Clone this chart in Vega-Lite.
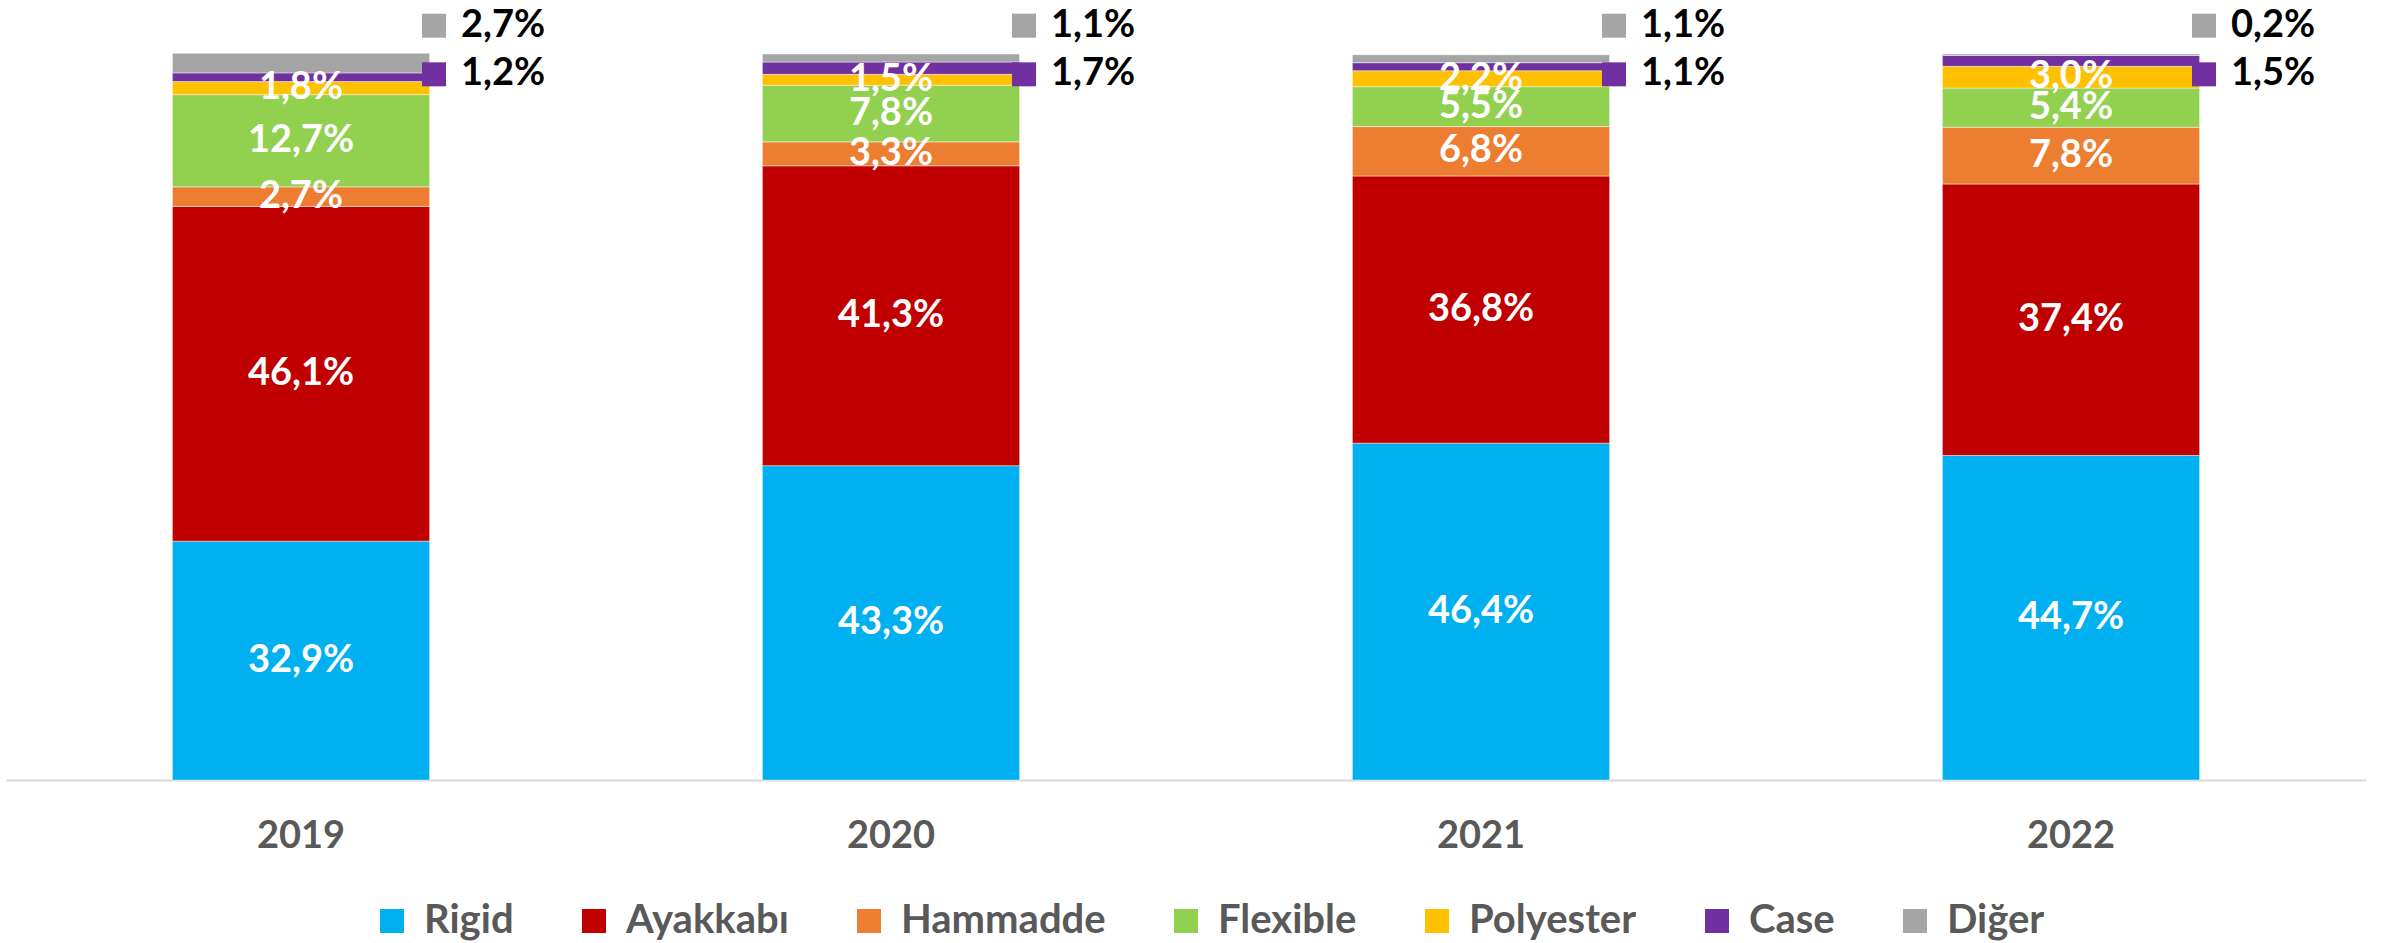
{
  "$schema": "https://vega.github.io/schema/vega-lite/v6.json",
  "width": 2360,
  "height": 726,
  "autosize": {"type": "none"},
  "padding": {"left": 6, "top": 54, "right": 26, "bottom": 163},
  "background": "white",
  "config": {"view": {"stroke": null}},
  "data": {
    "values": [
      {"year": "2019", "series": "Rigid", "value": 32.9, "order": 0},
      {"year": "2019", "series": "Ayakkabı", "value": 46.1, "order": 1},
      {"year": "2019", "series": "Hammadde", "value": 2.7, "order": 2},
      {"year": "2019", "series": "Flexible", "value": 12.7, "order": 3},
      {"year": "2019", "series": "Polyester", "value": 1.8, "order": 4},
      {"year": "2019", "series": "Case", "value": 1.2, "order": 5},
      {"year": "2019", "series": "Diğer", "value": 2.7, "order": 6},
      {"year": "2020", "series": "Rigid", "value": 43.3, "order": 0},
      {"year": "2020", "series": "Ayakkabı", "value": 41.3, "order": 1},
      {"year": "2020", "series": "Hammadde", "value": 3.3, "order": 2},
      {"year": "2020", "series": "Flexible", "value": 7.8, "order": 3},
      {"year": "2020", "series": "Polyester", "value": 1.5, "order": 4},
      {"year": "2020", "series": "Case", "value": 1.7, "order": 5},
      {"year": "2020", "series": "Diğer", "value": 1.1, "order": 6},
      {"year": "2021", "series": "Rigid", "value": 46.4, "order": 0},
      {"year": "2021", "series": "Ayakkabı", "value": 36.8, "order": 1},
      {"year": "2021", "series": "Hammadde", "value": 6.8, "order": 2},
      {"year": "2021", "series": "Flexible", "value": 5.5, "order": 3},
      {"year": "2021", "series": "Polyester", "value": 2.2, "order": 4},
      {"year": "2021", "series": "Case", "value": 1.1, "order": 5},
      {"year": "2021", "series": "Diğer", "value": 1.1, "order": 6},
      {"year": "2022", "series": "Rigid", "value": 44.7, "order": 0},
      {"year": "2022", "series": "Ayakkabı", "value": 37.4, "order": 1},
      {"year": "2022", "series": "Hammadde", "value": 7.8, "order": 2},
      {"year": "2022", "series": "Flexible", "value": 5.4, "order": 3},
      {"year": "2022", "series": "Polyester", "value": 3.0, "order": 4},
      {"year": "2022", "series": "Case", "value": 1.5, "order": 5},
      {"year": "2022", "series": "Diğer", "value": 0.2, "order": 6}
    ]
  },
  "transform": [
    {"calculate": "replace(format(datum.value, '.1f'), '.', ',') + '%'", "as": "label"}
  ],
  "encoding": {
    "x": {
      "field": "year",
      "type": "nominal",
      "scale": {"paddingInner": 0.564, "paddingOuter": 0.282},
      "axis": {
        "title": null,
        "labelAngle": 0,
        "ticks": false,
        "tickSize": 0,
        "domainColor": "#d9d9d9",
        "domainWidth": 2,
        "labelFont": "Lato",
        "labelFontWeight": "bold",
        "labelFontSize": 38,
        "labelColor": "#595959",
        "labelPadding": 37,
        "grid": false
      }
    }
  },
  "layer": [
    {
      "mark": {"type": "bar", "stroke": "#ffffff", "strokeWidth": 0.75, "strokeOpacity": 0.6},
      "encoding": {
        "y": {
          "field": "value",
          "type": "quantitative",
          "stack": "zero",
          "scale": {"domain": [0, 100], "nice": false},
          "axis": null
        },
        "order": {"field": "order", "type": "quantitative", "sort": "ascending"},
        "color": {
          "field": "series",
          "type": "nominal",
          "scale": {
            "domain": ["Rigid", "Ayakkabı", "Hammadde", "Flexible", "Polyester", "Case", "Diğer"],
            "range": ["#00B0F0", "#C00000", "#ED7D31", "#92D050", "#FFC000", "#7030A0", "#A5A5A5"]
          },
          "legend": {
            "title": null,
            "orient": "none",
            "direction": "horizontal",
            "legendX": 366,
            "legendY": 847,
            "symbolType": "square",
            "symbolSize": 576,
            "symbolStrokeWidth": 0,
            "labelFont": "Lato",
            "labelFontWeight": "bold",
            "labelFontSize": 40,
            "labelColor": "#595959",
            "labelOffset": 12,
            "columnPadding": 60,
            "labelLimit": 400
          }
        }
      }
    },
    {
      "transform": [
        {"stack": "value", "groupby": ["year"], "sort": [{"field": "order", "order": "ascending"}], "as": ["v0", "v1"]},
        {"filter": "datum.order < 5"},
        {"calculate": "(datum.v0 + datum.v1) / 2", "as": "mid"}
      ],
      "mark": {"type": "text", "font": "Lato", "fontWeight": "bold", "fontSize": 38, "color": "#ffffff", "baseline": "middle", "align": "center"},
      "encoding": {
        "y": {"field": "mid", "type": "quantitative"},
        "text": {"field": "label"}
      }
    },
    {
      "transform": [{"filter": "datum.series === 'Diğer'"}],
      "mark": {"type": "point", "shape": "square", "filled": true, "size": 576, "opacity": 1, "xOffset": 133},
      "encoding": {
        "y": {"datum": 103.9, "type": "quantitative"},
        "color": {"field": "series", "type": "nominal"}
      }
    },
    {
      "transform": [{"filter": "datum.series === 'Diğer'"}],
      "mark": {"type": "text", "font": "Lato", "fontWeight": "bold", "fontSize": 38, "color": "#000000", "baseline": "middle", "align": "left", "dx": 160},
      "encoding": {
        "y": {"datum": 103.9, "type": "quantitative"},
        "text": {"field": "label"}
      }
    },
    {
      "transform": [{"filter": "datum.series === 'Case'"}],
      "mark": {"type": "point", "shape": "square", "filled": true, "size": 576, "opacity": 1, "xOffset": 133},
      "encoding": {
        "y": {"datum": 97.2, "type": "quantitative"},
        "color": {"field": "series", "type": "nominal"}
      }
    },
    {
      "transform": [{"filter": "datum.series === 'Case'"}],
      "mark": {"type": "text", "font": "Lato", "fontWeight": "bold", "fontSize": 38, "color": "#000000", "baseline": "middle", "align": "left", "dx": 160},
      "encoding": {
        "y": {"datum": 97.2, "type": "quantitative"},
        "text": {"field": "label"}
      }
    }
  ]
}
